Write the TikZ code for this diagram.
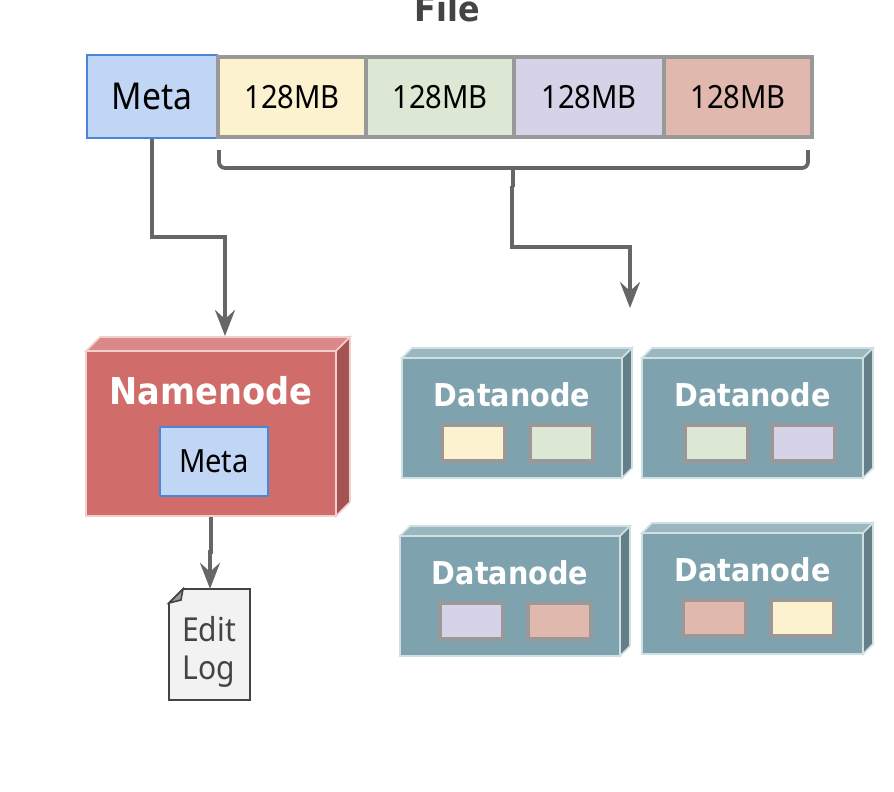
\documentclass[tikz,border=0pt]{standalone}
\usepackage{fontspec}
\setmainfont{Noto Sans}[FakeStretch=0.91]
\newfontfamily\titlefont{DejaVu Sans Bold}[FakeStretch=0.91]
\usetikzlibrary{arrows.meta}
\definecolor{metafill}{HTML}{C0D6F4}
\definecolor{metaline}{HTML}{4A86D8}
\definecolor{blockline}{HTML}{999999}
\definecolor{blocka}{HTML}{FCF2D0}
\definecolor{blockb}{HTML}{DDE8D4}
\definecolor{blockc}{HTML}{D6D2E7}
\definecolor{blockd}{HTML}{E0B8AE}
\definecolor{nnfront}{HTML}{D06C6A}
\definecolor{nntop}{HTML}{DB8888}
\definecolor{nnside}{HTML}{A65452}
\definecolor{nnline}{HTML}{F0D0CC}
\definecolor{dnfront}{HTML}{7FA3AE}
\definecolor{dntop}{HTML}{9AB6BF}
\definecolor{dnside}{HTML}{657F89}
\definecolor{dnline}{HTML}{CFE0E3}
\definecolor{edgeline}{HTML}{666666}
\definecolor{logline}{HTML}{444444}
\tikzstyle{meta}=[draw=metaline,fill=metafill,line width=1.6pt,inner sep=0pt,text=black]
\tikzstyle{block}=[draw=blockline,line width=4pt,inner sep=0pt,font=\fontsize{32}{32}\selectfont,minimum height=80pt]
\tikzstyle{chunk}=[draw=blockline,line width=4pt,inner sep=0pt,minimum width=63pt,minimum height=36pt]
\tikzstyle{namenode}=[draw=nnline,fill=nnfront,line width=1.6pt,inner sep=0pt,minimum width=250pt,minimum height=165pt]
\tikzstyle{datanode}=[draw=dnline,fill=dnfront,line width=1.6pt,inner sep=0pt,minimum width=220pt,minimum height=120pt]
\tikzstyle{title}=[text=white,font=\fontsize{31.5}{32}\titlefont,inner sep=0pt]
\tikzstyle{face}=[line width=1.6pt]
\tikzstyle{edge}=[draw=edgeline,line width=3.8pt,-{Stealth[length=26pt,width=20pt,inset=9pt]}]
\tikzstyle{brace}=[draw=edgeline,line width=3.8pt,rounded corners=6pt]
\begin{document}
\begin{tikzpicture}[x=1pt,y=-1pt]
        \useasboundingbox (0,0) rectangle (894,792);
        \node[text=logline,font=\fontsize{35}{35}\titlefont,inner sep=0pt,anchor=base] (file) at (447,22) {File};
        % file row
        \node[meta,minimum width=130pt,minimum height=83pt,font=\fontsize{37}{37}\selectfont] (meta) at (152,96.5) {Meta};
        \node[block,fill=blocka,minimum width=148pt] (b1) at (292,97) {128MB};
        \node[block,fill=blockb,minimum width=148pt] (b2) at (440,97) {128MB};
        \node[block,fill=blockc,minimum width=150pt] (b3) at (589,97) {128MB};
        \node[block,fill=blockd,minimum width=148pt] (b4) at (738,97) {128MB};
        % namenode
        \draw[face,draw=nnline,fill=nntop] (86,351) -- (100,337) -- (350,337) -- (336,351) -- cycle;
        \draw[face,draw=nnline,fill=nnside] (336,351) -- (350,337) -- (350,502) -- (336,516) -- cycle;
        \node[namenode] (nn) at (211,433.5) {};
        \node[title,font=\fontsize{37}{37}\titlefont] (nnt) at (211,391) {Namenode};
        \node[meta,minimum width=108pt,minimum height=69pt,font=\fontsize{32}{32}\selectfont] (nnm) at (214,461.5) {Meta};
        % edit log
        \draw[draw=logline,fill=black!5,line width=1.6pt] (183,589) -- (250,589) -- (250,700) -- (169,700) -- (169,603) -- cycle;
        \draw[draw=logline,fill=black!40,line width=1.6pt] (183,589) -- (169,603) -- (181,600) -- cycle;
        \node[minimum width=80pt,minimum height=111pt,inner sep=0pt] (log) at (210,644.5) {};
        \node[text=logline,align=center,font=\fontsize{33}{38}\selectfont,inner sep=0pt] (logt) at (209,651.5) {Edit\\Log};
        % datanodes
        \draw[face,draw=dnline,fill=dntop] (402,358) -- (412,348) -- (632,348) -- (622,358) -- cycle;
        \draw[face,draw=dnline,fill=dnside] (622,358) -- (632,348) -- (632,468) -- (622,478) -- cycle;
        \node[datanode] (dn1) at (512,418) {};
        \node[title] (dn1t) at (512,395) {Datanode};
        \node[chunk,fill=blocka] (c11) at (473,442.5) {};
        \node[chunk,fill=blockb] (c12) at (561,442.5) {};
        \draw[face,draw=dnline,fill=dntop] (642,358) -- (652,348) -- (873,348) -- (863,358) -- cycle;
        \draw[face,draw=dnline,fill=dnside] (863,358) -- (873,348) -- (873,468) -- (863,478) -- cycle;
        \node[datanode,minimum width=221pt] (dn2) at (752.5,418) {};
        \node[title] (dn2t) at (752.5,395) {Datanode};
        \node[chunk,fill=blockb] (c21) at (716,442.5) {};
        \node[chunk,fill=blockc] (c22) at (803,442.5) {};
        \draw[face,draw=dnline,fill=dntop] (400,536) -- (410,526) -- (630,526) -- (620,536) -- cycle;
        \draw[face,draw=dnline,fill=dnside] (620,536) -- (630,526) -- (630,646) -- (620,656) -- cycle;
        \node[datanode] (dn3) at (510,596) {};
        \node[title] (dn3t) at (510,573) {Datanode};
        \node[chunk,fill=blockc] (c31) at (471,621) {};
        \node[chunk,fill=blockd] (c32) at (559,621) {};
        \draw[face,draw=dnline,fill=dntop] (642,533) -- (652,523) -- (873,523) -- (863,533) -- cycle;
        \draw[face,draw=dnline,fill=dnside] (863,533) -- (873,523) -- (873,644) -- (863,654) -- cycle;
        \node[datanode,minimum width=221pt,minimum height=121pt] (dn4) at (752.5,593.5) {};
        \node[title] (dn4t) at (752.5,570) {Datanode};
        \node[chunk,fill=blockd] (c41) at (714,618) {};
        \node[chunk,fill=blocka] (c42) at (802,618) {};
        % connectors
        \coordinate (bl) at (219,150);
        \coordinate (br) at (808,150);
        \coordinate (bt) at (513,168);
        \coordinate (bm) at (513,187);
        \coordinate (bs) at (512,186);
        \coordinate (dnin) at (630,308);
        \coordinate (nnin) at (225,336);
        \draw[edge] (meta.south) -- (152,237) -- (225,237) -- (nnin);
        \draw[brace] (bl) -- (219,168) -- (808,168) -- (br);
        \draw[draw=edgeline,line width=3.8pt] (bt) -- (bm);
        \draw[edge] (bs) -- (512,247) -- (630,247) -- (dnin);
        \draw[edge] (nn.south) -- (211,552) -- (210,552) -- (log.north);
\end{tikzpicture}
\end{document}
